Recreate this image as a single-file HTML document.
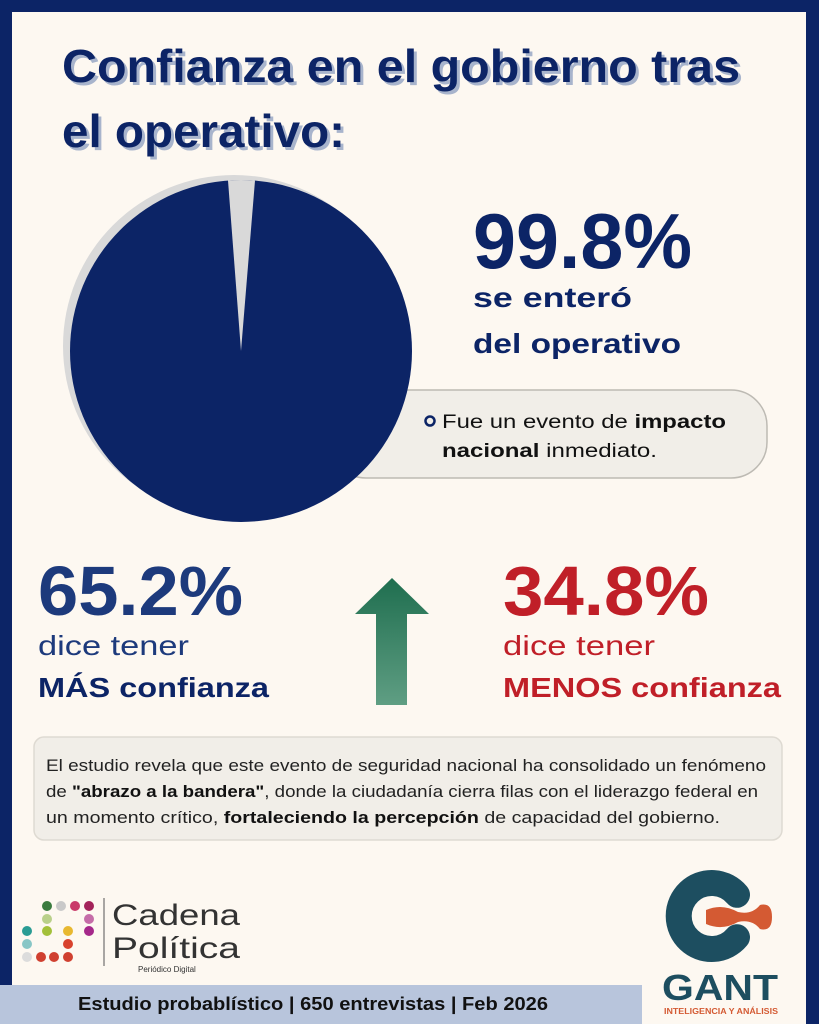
<!DOCTYPE html>
<html><head><meta charset="utf-8"><style>
html,body{margin:0;padding:0;background:#fdf8f1}
svg{display:block}
text{font-family:"Liberation Sans",sans-serif}
</style></head><body>
<svg width="819" height="1024" viewBox="0 0 819 1024" xmlns="http://www.w3.org/2000/svg">
<defs>
<linearGradient id="ag" x1="0" y1="0" x2="0" y2="1">
<stop offset="0" stop-color="#1f6e4f"/><stop offset="1" stop-color="#5f9e83"/>
</linearGradient>
</defs>
<rect width="819" height="1024" fill="#0c2466"/>
<rect x="12" y="12" width="794" height="1012" fill="#fdf8f1"/>
<rect x="0" y="985" width="642" height="39" fill="#b8c5dc"/>

<!-- title -->
<g font-weight="bold" font-size="46">
<text x="65" y="85" fill="#a8b4cc" textLength="678" lengthAdjust="spacingAndGlyphs">Confianza en el gobierno tras</text>
<text x="62" y="82" fill="#0c2466" textLength="678" lengthAdjust="spacingAndGlyphs">Confianza en el gobierno tras</text>
<text x="65" y="150" fill="#a8b4cc" textLength="283" lengthAdjust="spacingAndGlyphs">el operativo:</text>
<text x="62" y="147" fill="#0c2466" textLength="283" lengthAdjust="spacingAndGlyphs">el operativo:</text>
</g>

<!-- callout box -->
<rect x="330" y="390" width="437" height="88" rx="36" fill="#f1eee8" stroke="#bdbab3" stroke-width="1.5"/>

<!-- pie -->
<circle cx="234" cy="346" r="171" fill="#d9d9d9"/>
<circle cx="241" cy="351" r="171" fill="#0c2466"/>
<path d="M241 351 L228 180.5 A171 171 0 0 1 255 180.6 Z" fill="#d9d9d9"/>

<!-- 99.8 -->
<text x="473" y="268" font-size="78" font-weight="bold" fill="#0c2466" textLength="219" lengthAdjust="spacingAndGlyphs">99.8%</text>
<text x="473" y="307" font-size="28" font-weight="bold" fill="#0c2466" textLength="159" lengthAdjust="spacingAndGlyphs">se enteró</text>
<text x="473" y="353" font-size="28" font-weight="bold" fill="#0c2466" textLength="208" lengthAdjust="spacingAndGlyphs">del operativo</text>

<circle cx="430" cy="421" r="4.5" fill="none" stroke="#0c2466" stroke-width="2.5"/>
<text x="442" y="428" font-size="19" fill="#111" textLength="284" lengthAdjust="spacingAndGlyphs">Fue un evento de <tspan font-weight="bold">impacto</tspan></text>
<text x="442" y="457" font-size="19" fill="#111" textLength="215" lengthAdjust="spacingAndGlyphs"><tspan font-weight="bold">nacional</tspan> inmediato.</text>

<!-- stats -->
<text x="38" y="615" font-size="70" font-weight="bold" fill="#1d3a7c" textLength="205" lengthAdjust="spacingAndGlyphs">65.2%</text>
<text x="38" y="655" font-size="28" fill="#1d3a7c" textLength="151" lengthAdjust="spacingAndGlyphs">dice tener</text>
<text x="38" y="697" font-size="28" font-weight="bold" fill="#0c2466" textLength="231" lengthAdjust="spacingAndGlyphs">MÁS confianza</text>

<text x="503" y="615" font-size="70" font-weight="bold" fill="#c01f28" textLength="206" lengthAdjust="spacingAndGlyphs">34.8%</text>
<text x="503" y="655" font-size="28" fill="#c01f28" textLength="152" lengthAdjust="spacingAndGlyphs">dice tener</text>
<text x="503" y="697" font-size="28" font-weight="bold" fill="#c01f28" textLength="278" lengthAdjust="spacingAndGlyphs">MENOS confianza</text>

<!-- arrow -->
<path d="M355 614 L392 578 L429 614 L407 614 L407 705 L376 705 L376 614 Z" fill="url(#ag)"/>

<!-- paragraph -->
<rect x="34" y="737" width="748" height="103" rx="10" fill="#f1eee8" stroke="#dedad2" stroke-width="1.5"/>
<g font-size="16.5" fill="#222">
<text x="46" y="771" textLength="720" lengthAdjust="spacingAndGlyphs">El estudio revela que este evento de seguridad nacional ha consolidado un fenómeno</text>
<text x="46" y="797" textLength="712" lengthAdjust="spacingAndGlyphs">de <tspan font-weight="bold" fill="#111">"abrazo a la bandera"</tspan>, donde la ciudadanía cierra filas con el liderazgo federal en</text>
<text x="46" y="823" textLength="674" lengthAdjust="spacingAndGlyphs">un momento crítico, <tspan font-weight="bold" fill="#111">fortaleciendo la percepción</tspan> de capacidad del gobierno.</text>
</g>

<!-- Cadena Politica logo -->
<g>
<circle cx="47" cy="906" r="5" fill="#3a7b3f"/><circle cx="61" cy="906" r="5" fill="#c9c9c9"/><circle cx="75" cy="906" r="5" fill="#c93a6a"/><circle cx="89" cy="906" r="5" fill="#a3235a"/>
<circle cx="47" cy="919" r="5" fill="#b9d08a"/><circle cx="89" cy="919" r="5" fill="#c56ca8"/>
<circle cx="27" cy="931" r="5" fill="#2a9c94"/><circle cx="47" cy="931" r="5" fill="#a3c03a"/><circle cx="68" cy="931" r="5" fill="#e8b830"/><circle cx="89" cy="931" r="5" fill="#a5288a"/>
<circle cx="27" cy="944" r="5" fill="#88c6c6"/><circle cx="68" cy="944" r="5" fill="#d8422e"/>
<circle cx="27" cy="957" r="5" fill="#dcdcdc"/><circle cx="41" cy="957" r="5" fill="#d04030"/><circle cx="54" cy="957" r="5" fill="#d04030"/><circle cx="68" cy="957" r="5" fill="#d04030"/>
<line x1="104" y1="898" x2="104" y2="966" stroke="#555" stroke-width="1"/>
<text x="112" y="925" font-size="30" fill="#333" textLength="128" lengthAdjust="spacingAndGlyphs">Cadena</text>
<text x="112" y="958" font-size="30" fill="#333" textLength="128" lengthAdjust="spacingAndGlyphs">Política</text>
<text x="138" y="972" font-size="8" fill="#333">Periódico Digital</text>
</g>

<!-- GANT logo -->
<g>
<path d="M737 894.8 A33 33 0 1 0 737 937.2" fill="none" stroke="#1d4e60" stroke-width="26" stroke-linecap="round"/>
<path d="M706 910 Q722 903 738 912 Q752 915 760 905 Q772 902 772 917 Q772 932 760 929 Q752 919 738 922 Q722 931 706 924 Z" fill="#d45a33"/>
<text x="662" y="1000" font-size="36" font-weight="bold" fill="#1d4e60" textLength="116" lengthAdjust="spacingAndGlyphs">GANT</text>
<text x="664" y="1014" font-size="8.5" font-weight="bold" fill="#d45a33" textLength="114" lengthAdjust="spacingAndGlyphs">INTELIGENCIA Y ANÁLISIS</text>
</g>

<text x="78" y="1010" font-size="18" font-weight="bold" fill="#111" textLength="470" lengthAdjust="spacingAndGlyphs">Estudio probablístico | 650 entrevistas | Feb 2026</text>
</svg>
</body></html>
